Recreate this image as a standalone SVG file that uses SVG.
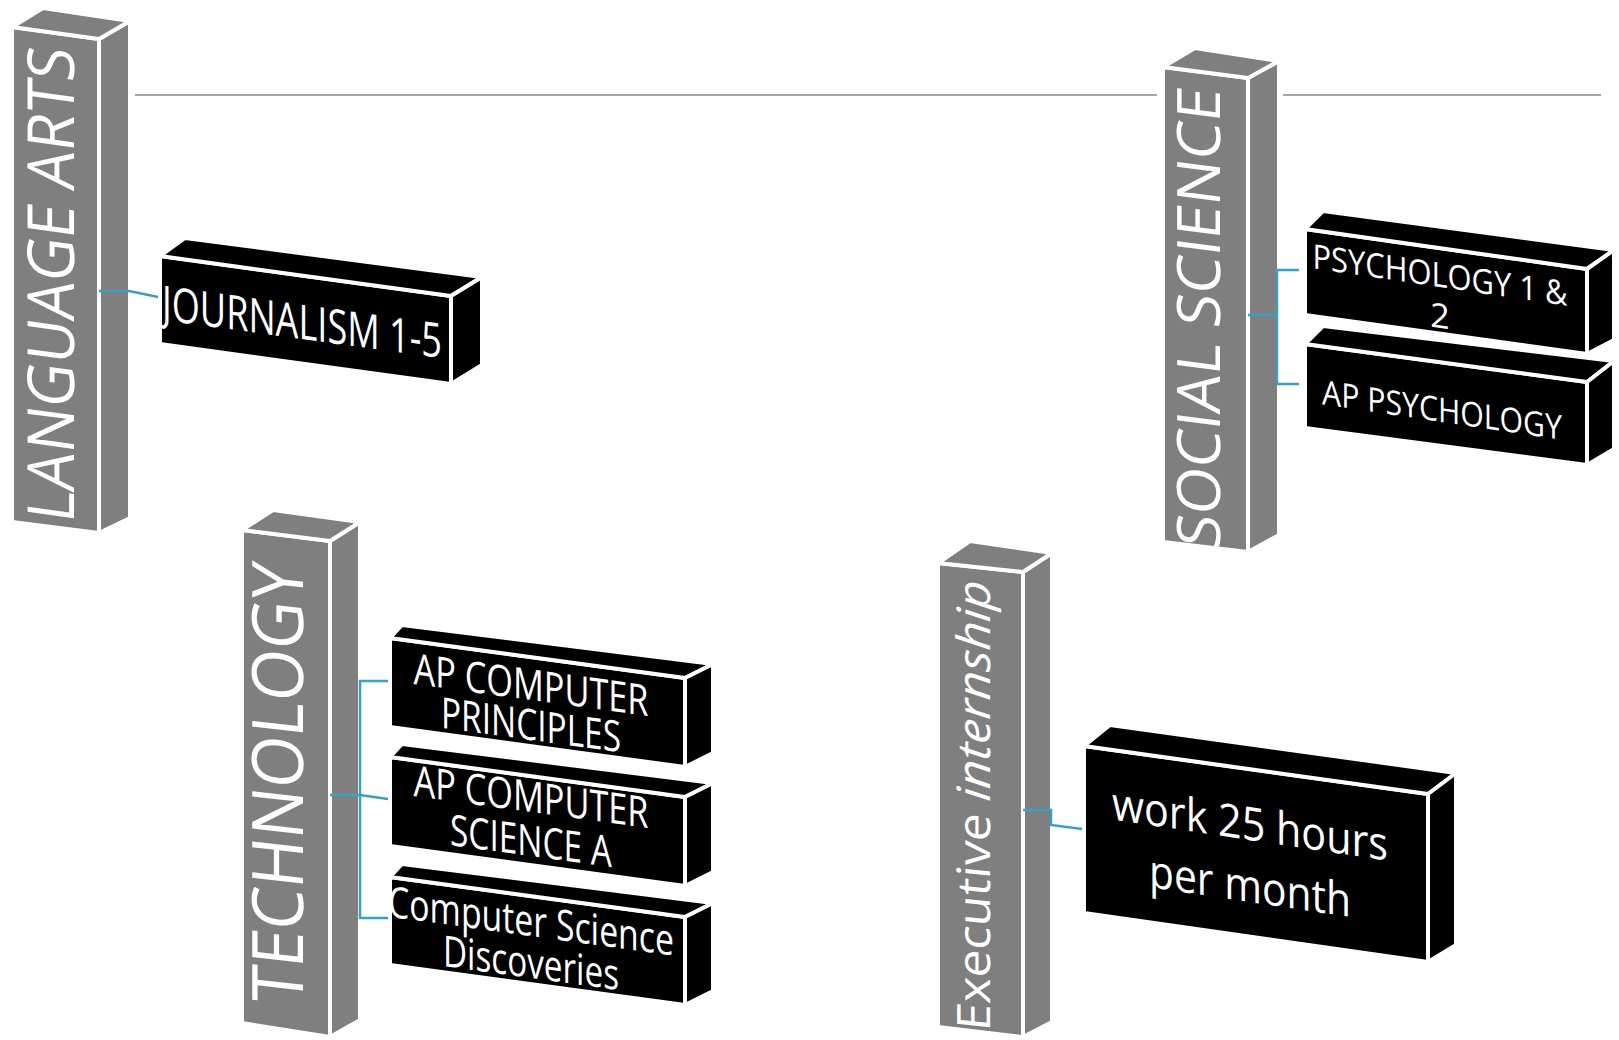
<svg xmlns="http://www.w3.org/2000/svg" width="1619" height="1040" viewBox="0 0 1619 1040">
<style>
.p{fill:#7f7f7f;stroke:#fff;stroke-width:4;stroke-linejoin:round}
.b{fill:#000;stroke:#fff;stroke-width:4;stroke-linejoin:round}
.t{font-family:"Open Sans","Noto Sans","DejaVu Sans",sans-serif;fill:#fff}
.m{text-anchor:middle}
.c{fill:none;stroke:#3a9fc4;stroke-width:2.5}
.rule{stroke:#a6a6a6;stroke-width:2}
</style>
<rect width="1619" height="1040" fill="#fff"/>
<g id="rule">
<line class="rule" x1="135" y1="95" x2="1157" y2="95"/>
<line class="rule" x1="1283" y1="95" x2="1601" y2="95"/>
</g>
<g id="language-arts">
<polygon class="p" points="12,27 99,39 99,533 12,522"/>
<polygon class="p" points="99,39 130,21 130,518 99,533"/>
<polygon class="p" points="12,27 43,8 130,21 99,39"/>
<g transform="translate(74,524) skewY(7.8)"><text class="t" transform="rotate(-90)" font-size="65" textLength="474" lengthAdjust="spacingAndGlyphs">LANGUAGE ARTS</text></g>
</g>
<g id="social-science">
<polygon class="p" points="1163,67 1248,78 1248,552 1163,542"/>
<polygon class="p" points="1248,78 1279,61 1279,535 1248,552"/>
<polygon class="p" points="1163,67 1195,48 1279,61 1248,78"/>
<g transform="translate(1220,550) skewY(7.4)"><text class="t" transform="rotate(-90)" font-size="60" textLength="460" lengthAdjust="spacingAndGlyphs">SOCIAL SCIENCE</text></g>
</g>
<g id="technology">
<polygon class="p" points="242,530 330,541 330,1037 242,1023"/>
<polygon class="p" points="330,541 360,522 360,1020 330,1037"/>
<polygon class="p" points="242,530 273,510 360,522 330,541"/>
<g transform="translate(303,1006) skewY(6.5)"><text class="t" transform="rotate(-90)" font-size="71" textLength="440" lengthAdjust="spacingAndGlyphs">TECHNOLOGY</text></g>
</g>
<g id="executive-internship">
<polygon class="p" points="938,563 1023,572 1023,1037 938,1027"/>
<polygon class="p" points="1023,572 1052,553 1052,1022 1023,1037"/>
<polygon class="p" points="938,563 970,541 1052,553 1023,572"/>
<g transform="translate(990,1032) skewY(6)"><text class="t" transform="rotate(-90)" font-size="46" textLength="450" lengthAdjust="spacingAndGlyphs">Executive <tspan font-style="italic">internship</tspan></text></g>
</g>
<g id="journalism">
<polygon class="b" points="160,256 451,296 451,384 160,344"/>
<polygon class="b" points="160,256 185,238 482,277 451,296"/>
<polygon class="b" points="451,296 482,277 482,365 451,384"/>
<g transform="translate(302,339) skewY(7.8)"><text class="t m" font-size="48" textLength="280" lengthAdjust="spacingAndGlyphs">JOURNALISM 1-5</text></g>
</g>
<g id="ap-psychology">
<polygon class="b" points="1305,344 1587,382 1587,465 1305,428"/>
<polygon class="b" points="1305,344 1323,326 1614,361 1587,382"/>
<polygon class="b" points="1587,382 1614,361 1614,449 1587,465"/>
<g transform="translate(1442,422) skewY(8.4)"><text class="t m" font-size="34" textLength="240" lengthAdjust="spacingAndGlyphs">AP PSYCHOLOGY</text></g>
</g>
<g id="psychology">
<polygon class="b" points="1305,229 1587,269 1587,354 1305,315"/>
<polygon class="b" points="1305,229 1323,211 1614,250 1587,269"/>
<polygon class="b" points="1587,269 1614,250 1614,340 1587,354"/>
<g transform="translate(1440,287) skewY(8.4)"><text class="t m" font-size="34"><tspan x="0" y="0" textLength="255" lengthAdjust="spacingAndGlyphs">PSYCHOLOGY 1 &amp;</tspan><tspan x="0" y="41">2</tspan></text></g>
</g>
<g id="cs-discoveries">
<polygon class="b" points="390,877 685,917 685,1005 390,965"/>
<polygon class="b" points="390,877 402,864 713,903 685,917"/>
<polygon class="b" points="685,917 713,903 713,991 685,1005"/>
<g transform="translate(531,936) skewY(7.8)"><text class="t m" font-size="43"><tspan x="0" y="0" textLength="286" lengthAdjust="spacingAndGlyphs">Computer Science</tspan><tspan x="0" y="42" textLength="176" lengthAdjust="spacingAndGlyphs">Discoveries</tspan></text></g>
</g>
<g id="ap-cs-a">
<polygon class="b" points="390,757 685,797 685,886 390,846"/>
<polygon class="b" points="390,757 402,744 713,783 685,797"/>
<polygon class="b" points="685,797 713,783 713,872 685,886"/>
<g transform="translate(531,812) skewY(7.8)"><text class="t m" font-size="43"><tspan x="0" y="0" textLength="235" lengthAdjust="spacingAndGlyphs">AP COMPUTER</tspan><tspan x="0" y="44" textLength="162" lengthAdjust="spacingAndGlyphs">SCIENCE A</tspan></text></g>
</g>
<g id="ap-cs-principles">
<polygon class="b" points="390,638 685,678 685,767 390,727"/>
<polygon class="b" points="390,638 402,625 713,664 685,678"/>
<polygon class="b" points="685,678 713,664 713,753 685,767"/>
<g transform="translate(531,700) skewY(7.8)"><text class="t m" font-size="43"><tspan x="0" y="0" textLength="235" lengthAdjust="spacingAndGlyphs">AP COMPUTER</tspan><tspan x="0" y="40" textLength="180" lengthAdjust="spacingAndGlyphs">PRINCIPLES</tspan></text></g>
</g>
<g id="work-hours">
<polygon class="b" points="1084,746 1428,794 1428,962 1084,913"/>
<polygon class="b" points="1084,746 1110,725 1456,773 1428,794"/>
<polygon class="b" points="1428,794 1456,773 1456,945 1428,962"/>
<g transform="translate(1250,840) skewY(8.5)"><text class="t m" font-size="46"><tspan x="0" y="0" textLength="276" lengthAdjust="spacingAndGlyphs">work 25 hours</tspan><tspan x="0" y="62" textLength="202" lengthAdjust="spacingAndGlyphs">per month</tspan></text></g>
</g>
<g id="connectors">
<polyline class="c" points="99,291 129,291 158,297"/>
<path class="c" d="M1248,315 H1277 M1299,270 H1277 V384 H1299"/>
<path class="c" d="M388,681 H360 V918 H388 M330,795 H360 L388,799"/>
<path class="c" d="M1023,810 H1051 V825 L1082,829"/>
</g>
</svg>
